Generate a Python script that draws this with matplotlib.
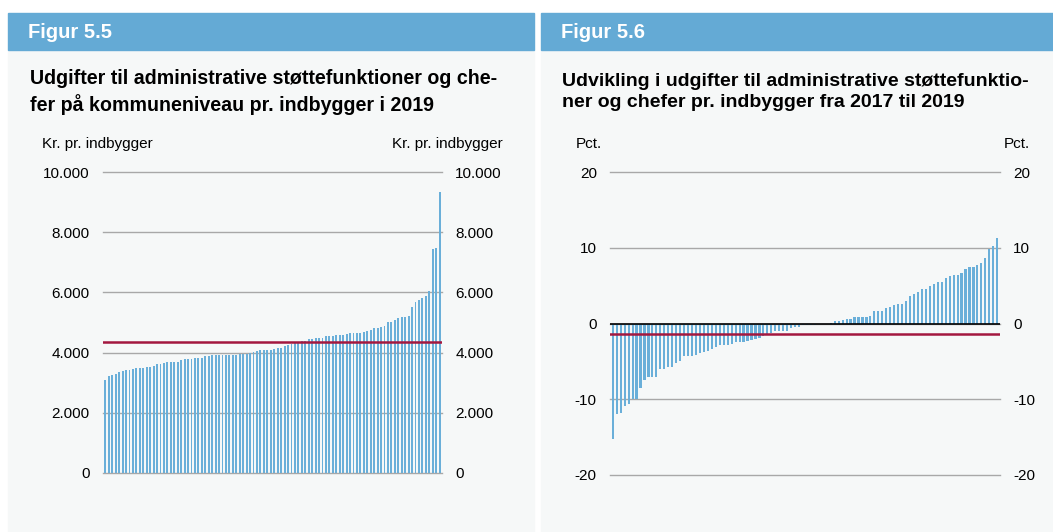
import matplotlib
matplotlib.use("Agg")
import matplotlib.pyplot as plt
from matplotlib.patches import Rectangle
import numpy as np

plt.rcParams['font.family'] = ['Liberation Sans', 'DejaVu Sans']

# Figur 5.5: kr. pr. indbygger 2019, sorted (98 kommuner)
udgift_2019 = [
    3080, 3210, 3270, 3290, 3340, 3390, 3410, 3430, 3460, 3500,
    3500, 3500, 3520, 3530, 3570, 3610, 3630, 3660, 3680, 3700,
    3700, 3700, 3760, 3790, 3790, 3800, 3830, 3830, 3830, 3900,
    3900, 3910, 3910, 3920, 3920, 3920, 3930, 3930, 3930, 3960,
    3960, 3960, 3980, 4010, 4040, 4070, 4090, 4090, 4090, 4130,
    4160, 4160, 4210, 4250, 4270, 4320, 4350, 4390, 4390, 4450,
    4450, 4480, 4480, 4480, 4550, 4550, 4550, 4590, 4600, 4600,
    4620, 4640, 4660, 4660, 4660, 4690, 4710, 4740, 4810, 4810,
    4850, 4870, 5010, 5010, 5090, 5150, 5190, 5190, 5220, 5500,
    5680, 5750, 5810, 5880, 6030, 7450, 7470, 9350,
]
gns_2019 = 4350

# Figur 5.6: pct. udvikling 2017-2019, sorted
udvikling = [
    -15.3, -11.9, -11.8, -10.9, -10.6, -10.0, -10.0, -8.5, -7.5, -7.1,
    -7.1, -7.1, -6.05, -6.05, -5.8, -5.8, -5.2, -4.9, -4.35, -4.35,
    -4.3, -4.1, -3.85, -3.7, -3.6, -3.4, -3.1, -2.9, -2.8, -2.8,
    -2.7, -2.45, -2.45, -2.45, -2.25, -2.2, -2.0, -1.9, -1.65, -1.5,
    -1.2, -1.05, -1.05, -0.95, -0.95, -0.6, -0.5, -0.4, -0.25, -0.2,
    -0.2, -0.15, -0.12, -0.1, -0.08, 0.08, 0.35, 0.35, 0.5, 0.55,
    0.65, 0.8, 0.8, 0.9, 0.9, 1.05, 1.6, 1.6, 1.7, 2.05,
    2.2, 2.45, 2.55, 2.6, 3.0, 3.65, 3.85, 4.1, 4.55, 4.55,
    5.0, 5.2, 5.5, 5.5, 6.05, 6.25, 6.45, 6.45, 6.65, 7.25,
    7.5, 7.5, 7.7, 7.95, 8.65, 9.8, 10.25, 11.35,
]
gns_udvikling = -1.4

ticks_left = [0, 2000, 4000, 6000, 8000, 10000]
ticklabels_left = ['0', '2.000', '4.000', '6.000', '8.000', '10.000']
ticks_right = [-20, -10, 0, 10, 20]
ticklabels_right = ['-20', '-10', '0', '10', '20']

W, H = 1053, 532
BLUE = '#64aad5'
PANEL = '#f6f8f8'
BAR = '#6aafd9'
RED = '#a3183f'
GRID = '#a8a8a8'
FS = 11

fig = plt.figure(figsize=(W / 100, H / 100), dpi=100)
fig.patch.set_facecolor('white')


def px_rect(x0, y0, x1, y1, color):
    fig.patches.append(Rectangle((x0 / W, 1 - y1 / H), (x1 - x0) / W, (y1 - y0) / H,
                                 transform=fig.transFigure, color=color, zorder=-5))


def px_text(x, y, s, **kw):
    fig.text(x / W, 1 - y / H, s, **kw)


def px_axes(x0, y0, x1, y1):
    return fig.add_axes([x0 / W, 1 - y1 / H, (x1 - x0) / W, (y1 - y0) / H])


# panel backgrounds and headers
for x0, x1, label in [(8, 534, 'Figur 5.5'), (541, 1053, 'Figur 5.6')]:
    px_rect(x0, 50, x1, H, PANEL)
    px_rect(x0, 13, x1, 50, BLUE)
    px_text(x0 + 20, 32, label, color='white', fontsize=14.5, fontweight='bold', va='center')

px_text(30, 92, 'Udgifter til administrative støttefunktioner og che-\nfer på kommuneniveau pr. indbygger i 2019',
        fontsize=14.1, fontweight='bold', va='center', linespacing=1.3)
px_text(562, 92, 'Udvikling i udgifter til administrative støttefunktio-\nner og chefer pr. indbygger fra 2017 til 2019',
        fontsize=14, fontweight='bold', va='center', linespacing=1.3)

px_text(42, 144, 'Kr. pr. indbygger', fontsize=FS, va='center')
px_text(503, 144, 'Kr. pr. indbygger', fontsize=FS, va='center', ha='right')
px_text(576, 144, 'Pct.', fontsize=FS, va='center')
px_text(1030, 144, 'Pct.', fontsize=FS, va='center', ha='right')


def style_axes(ax):
    ax.set_facecolor('none')
    for s in ax.spines.values():
        s.set_visible(False)
    ax.set_xticks([])
    ax.tick_params(axis='y', length=0, pad=9.5, labelsize=FS, labelright=True)
    ax.grid(axis='y', color=GRID, linewidth=1)
    for gl in ax.get_ygridlines():
        gl.set_clip_on(False)
    ax.set_axisbelow(True)


# Figur 5.5
ax1 = px_axes(103, 172, 442, 473)
x1 = np.arange(len(udgift_2019))
ax1.bar(x1, udgift_2019, width=0.55, color=BAR, linewidth=0, zorder=2)
ax1.axhline(gns_2019, color=RED, linewidth=1.8, zorder=3)
ax1.set_xlim(-0.7, len(udgift_2019) - 0.3)
ax1.set_ylim(0, 10000)
ax1.set_yticks(ticks_left)
ax1.set_yticklabels(ticklabels_left)
style_axes(ax1)

# Figur 5.6
ax2 = px_axes(610, 172, 1000, 475)
x2 = np.arange(len(udvikling))
ax2.bar(x2, udvikling, width=0.55, color=BAR, linewidth=0, zorder=2)
ax2.axhline(0, color='black', linewidth=1.2, zorder=3)
ax2.axhline(gns_udvikling, color=RED, linewidth=1.8, zorder=3)
ax2.set_xlim(-0.7, len(udvikling) - 0.3)
ax2.set_ylim(-20, 20)
ax2.set_yticks(ticks_right)
ax2.set_yticklabels(ticklabels_right)
style_axes(ax2)

fig.savefig('out.png', dpi=100)
